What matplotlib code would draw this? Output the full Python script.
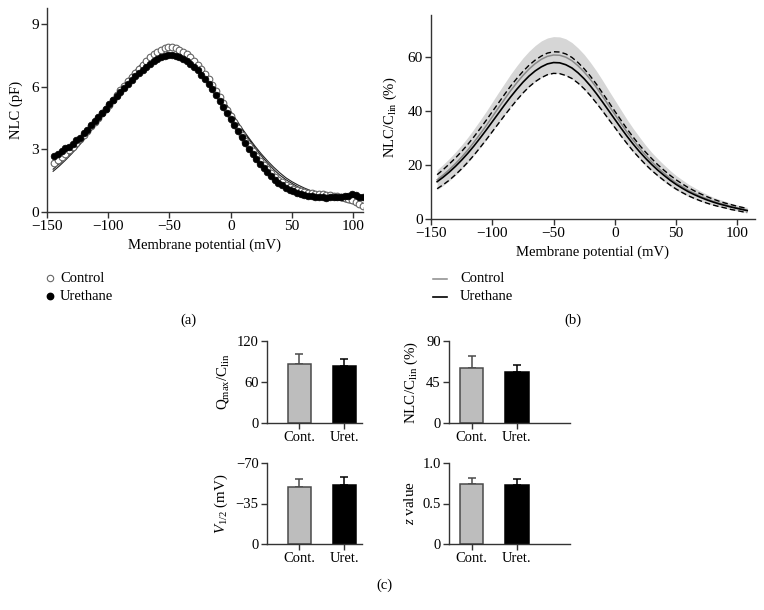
import numpy as np
import matplotlib
matplotlib.use("Agg")
import matplotlib.pyplot as plt
from matplotlib.lines import Line2D

plt.rcParams['font.family'] = ['Liberation Serif', 'DejaVu Serif']
plt.rcParams['mathtext.fontset'] = 'custom'
plt.rcParams['mathtext.rm'] = 'Liberation Serif'
plt.rcParams['mathtext.it'] = 'Liberation Serif:italic'
plt.rcParams['axes.unicode_minus'] = True

# ---------------- Panel (a) data: NLC (pF) vs membrane potential ----------------
v_pts = np.arange(-144, 112, 3)
nlc_control = [2.34, 2.5, 2.65, 2.8, 2.95, 3.12, 3.3, 3.5, 3.7, 3.9,
               4.1, 4.3, 4.5, 4.72, 4.92, 5.14, 5.37, 5.6, 5.83, 6.05,
               6.27, 6.48, 6.68, 6.87, 7.05, 7.22, 7.4, 7.55, 7.68, 7.78,
               7.85, 7.9, 7.9, 7.86, 7.78, 7.68, 7.56, 7.42, 7.25, 7.05,
               6.84, 6.6, 6.35, 6.08, 5.8, 5.5, 5.2, 4.9, 4.6, 4.3,
               4.0, 3.7, 3.42, 3.15, 2.9, 2.68, 2.45, 2.25, 2.05, 1.87,
               1.7, 1.55, 1.42, 1.3, 1.2, 1.12, 1.05, 1.0, 0.96, 0.93,
               0.9, 0.88, 0.86, 0.84, 0.82, 0.8, 0.78, 0.75, 0.72, 0.68,
               0.62, 0.56, 0.48, 0.38, 0.28, 0.18]
nlc_urethane = [2.68, 2.8, 2.9, 3.05, 3.12, 3.28, 3.45, 3.56, 3.76, 3.95,
                4.15, 4.37, 4.55, 4.75, 4.95, 5.15, 5.35, 5.55, 5.75, 5.95,
                6.15, 6.33, 6.5, 6.66, 6.82, 6.96, 7.1, 7.22, 7.33, 7.42,
                7.48, 7.5, 7.5, 7.46, 7.4, 7.32, 7.22, 7.1, 6.95, 6.78,
                6.58, 6.36, 6.12, 5.87, 5.6, 5.32, 5.03, 4.74, 4.45, 4.16,
                3.87, 3.58, 3.3, 3.03, 2.78, 2.54, 2.32, 2.1, 1.9, 1.72,
                1.55, 1.4, 1.27, 1.16, 1.07, 1.0, 0.93, 0.87, 0.82, 0.78,
                0.75, 0.72, 0.7, 0.7, 0.68, 0.7, 0.72, 0.73, 0.72, 0.75,
                0.78, 0.84, 0.8, 0.74, 0.7, 0.66]
v_fit = np.append(np.arange(-145, 110, 5), 110)
fit_control = [2.05, 2.3, 2.58, 2.88, 3.2, 3.55, 3.92, 4.3, 4.7, 5.1,
               5.5, 5.9, 6.28, 6.64, 6.97, 7.26, 7.5, 7.68, 7.8, 7.85,
               7.82, 7.71, 7.53, 7.28, 6.97, 6.6, 6.19, 5.75, 5.29, 4.82,
               4.35, 3.9, 3.47, 3.06, 2.69, 2.35, 2.04, 1.77, 1.55, 1.37,
               1.2, 1.07, 0.96, 0.87, 0.79, 0.71, 0.63, 0.55, 0.47, 0.39,
               0.31, 0.24]
fit_urethane = [1.95, 2.2, 2.48, 2.78, 3.1, 3.45, 3.82, 4.2, 4.58, 4.96,
                5.34, 5.7, 6.05, 6.38, 6.68, 6.94, 7.16, 7.33, 7.45, 7.5,
                7.48, 7.4, 7.25, 7.04, 6.77, 6.45, 6.08, 5.68, 5.25, 4.81,
                4.37, 3.94, 3.53, 3.14, 2.78, 2.45, 2.15, 1.88, 1.64, 1.45,
                1.29, 1.15, 1.03, 0.93, 0.84, 0.75, 0.67, 0.59, 0.51, 0.43,
                0.36, 0.3]

# ---------------- Panel (b) data: NLC/Clin (%) mean curves ----------------
v_b = np.append(np.arange(-145, 110, 5), 108)
ure_mean = [13.8, 15.5, 17.4, 19.5, 21.8, 24.3, 27.0, 29.9, 32.9, 36.0,
            39.1, 42.2, 45.2, 48.0, 50.6, 52.9, 54.8, 56.3, 57.4, 57.9,
            57.8, 57.1, 55.9, 54.1, 51.9, 49.3, 46.4, 43.3, 40.1, 36.9,
            33.7, 30.6, 27.7, 25.0, 22.5, 20.2, 18.1, 16.2, 14.4, 12.8,
            11.4, 10.1, 9.0, 8.0, 7.1, 6.3, 5.6, 5.0, 4.4, 3.9,
            3.4, 3.1]
ure_sem = [2.6, 2.8, 3.0, 3.1, 3.2, 3.3, 3.4, 3.5, 3.6, 3.7,
           3.8, 3.9, 4.0, 4.0, 4.0, 4.0, 4.0, 4.0, 4.0, 4.0,
           4.0, 4.0, 3.9, 3.8, 3.7, 3.6, 3.5, 3.3, 3.2, 3.0,
           2.9, 2.7, 2.6, 2.4, 2.3, 2.2, 2.0, 1.9, 1.8, 1.7,
           1.6, 1.5, 1.4, 1.3, 1.2, 1.1, 1.0, 0.9, 0.9, 0.8,
           0.8, 0.7]
con_mean = [14.5, 16.3, 18.3, 20.5, 22.9, 25.5, 28.4, 31.4, 34.5, 37.8,
            41.1, 44.3, 47.5, 50.4, 53.1, 55.5, 57.5, 59.1, 60.2, 60.7,
            60.6, 59.9, 58.6, 56.7, 54.4, 51.7, 48.7, 45.4, 42.0, 38.7,
            35.4, 32.1, 29.1, 26.3, 23.6, 21.2, 19.0, 17.0, 15.1, 13.4,
            12.0, 10.6, 9.5, 8.4, 7.5, 6.6, 5.9, 5.3, 4.6, 4.1,
            3.6, 3.3]
con_sem = [3.7, 3.9, 4.1, 4.3, 4.5, 4.7, 4.9, 5.1, 5.3, 5.5,
           5.7, 5.9, 6.1, 6.3, 6.5, 6.6, 6.7, 6.8, 6.8, 6.8,
           6.8, 6.8, 6.7, 6.6, 6.5, 6.3, 6.1, 5.9, 5.6, 5.3,
           5.0, 4.7, 4.4, 4.1, 3.8, 3.5, 3.3, 3.1, 2.9, 2.7,
           2.5, 2.3, 2.1, 1.9, 1.7, 1.5, 1.4, 1.3, 1.2, 1.1,
           1.0, 1.0]

# ---------------- Panel (c) data: bar summaries ----------------
groups = ["Cont.", "Uret."]
qmax_mean = [86, 83]
qmax_err = [15, 11]
nlc_mean = [60, 56]
nlc_err = [13.5, 7.5]
vhalf_mean = [-49, -51]
vhalf_err = [7, 7]
z_mean = [0.74, 0.73]
z_err = [0.07, 0.07]

W, H = 764, 610
fig = plt.figure(figsize=(W / 100, H / 100), dpi=100)


def ax_px(x0, y0, x1, y1):
    return fig.add_axes([x0 / W, 1 - y1 / H, (x1 - x0) / W, (y1 - y0) / H])


def style(ax, fs=11):
    for s in ("top", "right"):
        ax.spines[s].set_visible(False)
    for s in ("left", "bottom"):
        ax.spines[s].set_color("#333333")
        ax.spines[s].set_linewidth(1.0)
    ax.tick_params(direction="out", length=4, width=1.0, color="#333333",
                   labelsize=fs, pad=2)


# ---- (a) ----
axa = ax_px(47, 8, 363, 212)
style(axa)
axa.plot(v_fit, fit_control, color="#222222", lw=0.8, zorder=2)
axa.plot(v_fit, fit_urethane, color="#222222", lw=0.8, zorder=2)
axa.plot(v_pts, nlc_control, "o", ms=4.8, mfc="white", mec="#666666",
         mew=0.8, zorder=3)
axa.plot(v_pts, nlc_urethane, "o", ms=4.8, mfc="black", mec="black",
         mew=0.5, zorder=4)
axa.set_xlim(-150, 108)
axa.set_ylim(0, 9.77)
axa.set_xticks([-150, -100, -50, 0, 50, 100])
axa.set_yticks([0, 3, 6, 9])
axa.set_xlabel("Membrane potential (mV)", fontsize=10.5, labelpad=4)
axa.set_ylabel("NLC (pF)", fontsize=10.5, labelpad=6)

fig.add_artist(Line2D([50 / W], [1 - 278 / H], marker="o", ms=4.6,
                      mfc="white", mec="#666666", mew=0.8, ls="none"))
fig.add_artist(Line2D([50 / W], [1 - 296 / H], marker="o", ms=4.6,
                      mfc="black", mec="black", ls="none"))
fig.text(60 / W, 1 - 278 / H, "Control", fontsize=10.5, va="center")
fig.text(60 / W, 1 - 296 / H, "Urethane", fontsize=10.5, va="center")
fig.text(188 / W, 1 - 320 / H, "(a)", fontsize=10.5, ha="center", va="center")

# ---- (b) ----
axb = ax_px(431, 15, 755, 219)
style(axb)
cm = np.array(con_mean)
cs = np.array(con_sem)
um = np.array(ure_mean)
us = np.array(ure_sem)
axb.fill_between(v_b, cm - cs, cm + cs, color="#d6d6d6", lw=0, zorder=1)
axb.plot(v_b, cm, color="#8a8a8a", lw=1.1, zorder=3)
axb.plot(v_b, um, color="black", lw=1.2, zorder=4)
axb.plot(v_b, um + us, color="black", lw=1.0, ls=(0, (4, 2.2)), zorder=4)
axb.plot(v_b, um - us, color="black", lw=1.0, ls=(0, (4, 2.2)), zorder=4)
axb.set_xlim(-150, 114.4)
axb.set_ylim(0, 75.5)
axb.set_xticks([-150, -100, -50, 0, 50, 100])
axb.set_yticks([0, 20, 40, 60])
axb.set_xlabel("Membrane potential (mV)", fontsize=10.5, labelpad=4)
axb.set_ylabel(r"NLC/C$_\mathregular{lin}$ (%)", fontsize=10.5, labelpad=6)

fig.add_artist(Line2D([433 / W, 447 / W], [1 - 279 / H] * 2, color="#8a8a8a", lw=1.1))
fig.add_artist(Line2D([433 / W, 447 / W], [1 - 297 / H] * 2, color="black", lw=1.2))
fig.text(460 / W, 1 - 279 / H, "Control", fontsize=10.5, va="center")
fig.text(460 / W, 1 - 297 / H, "Urethane", fontsize=10.5, va="center")
fig.text(573 / W, 1 - 320 / H, "(b)", fontsize=10.5, ha="center", va="center")

# ---- (c) ----
bar_cols = ["#bdbdbd", "black"]
edge_cols = ["#4a4a4a", "black"]


def bars(ax, means, errs, xlim, ylim, ticks, ticklabels, ylabel, inverted=False):
    style(ax, fs=10.5)
    x = np.arange(len(groups))
    for i in range(len(groups)):
        ax.bar(x[i], means[i], width=0.51, color=bar_cols[i],
               edgecolor=edge_cols[i], linewidth=1.1, zorder=2)
        if inverted:
            yerr = [[errs[i]], [0]]
        else:
            yerr = [[0], [errs[i]]]
        ax.errorbar(x[i], means[i], yerr=yerr, fmt="none",
                    ecolor=edge_cols[i], elinewidth=1.1, capsize=3,
                    capthick=1.1, zorder=1)
    ax.set_xlim(*xlim)
    ax.set_ylim(*ylim)
    ax.set_yticks(ticks)
    ax.set_yticklabels(ticklabels)
    ax.set_xticks(x)
    ax.set_xticklabels(groups)
    ax.set_ylabel(ylabel, fontsize=10.8, labelpad=4)


ax1 = ax_px(267, 341, 362, 423)
bars(ax1, qmax_mean, qmax_err, (-0.72, 1.39), (0, 120), [0, 60, 120],
     ["0", "60", "120"], r"Q$_\mathregular{max}$/C$_\mathregular{lin}$")
ax2 = ax_px(449, 341, 570, 423)
bars(ax2, nlc_mean, nlc_err, (-0.5, 2.17), (0, 90), [0, 45, 90],
     ["0", "45", "90"], r"NLC/C$_\mathregular{lin}$ (%)")
ax3 = ax_px(267, 463, 362, 544)
bars(ax3, vhalf_mean, vhalf_err, (-0.72, 1.39), (0, -70), [0, -35, -70],
     ["0", "\u221235", "\u221270"], r"$\mathit{V}_\mathregular{1/2}$ (mV)",
     inverted=True)
ax4 = ax_px(449, 463, 570, 544)
bars(ax4, z_mean, z_err, (-0.5, 2.17), (0, 1.0), [0, 0.5, 1.0],
     ["0", "0.5", "1.0"], r"$\mathit{z}$ value")

fig.text(384 / W, 1 - 585 / H, "(c)", fontsize=10.5, ha="center", va="center")

fig.savefig("out.png", dpi=100)
